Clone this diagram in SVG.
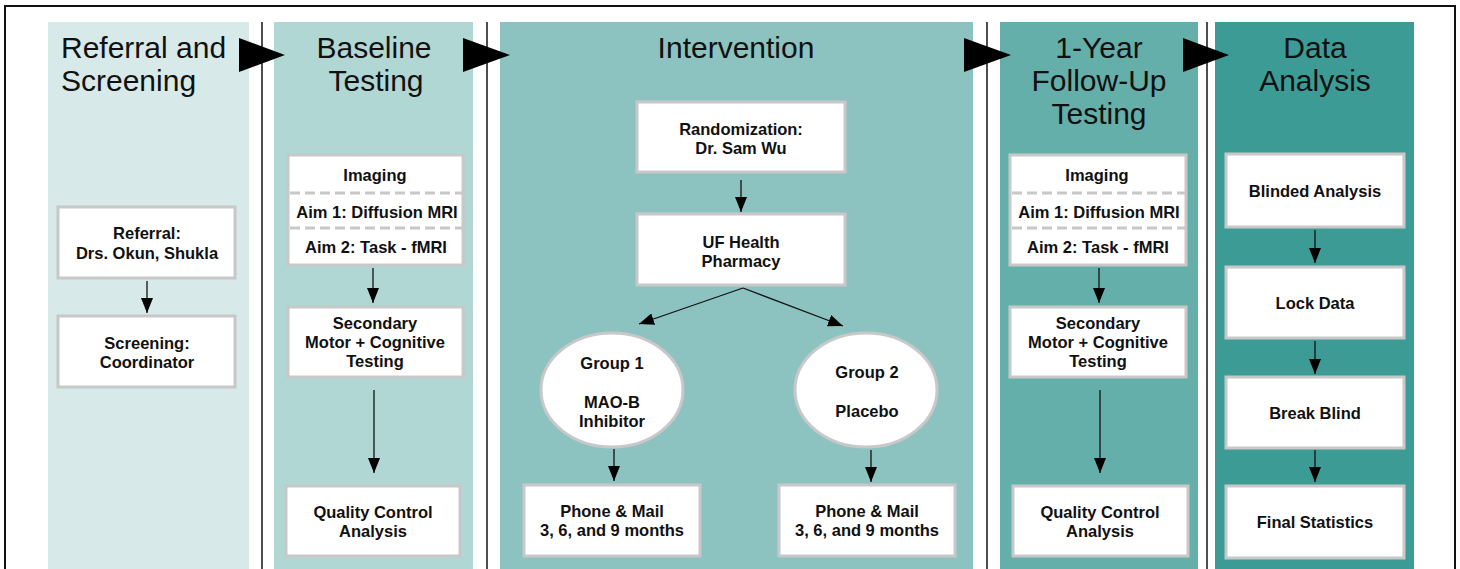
<svg xmlns="http://www.w3.org/2000/svg" width="1460" height="569" viewBox="0 0 1460 569">
<style>
.bg{fill:#ffffff}
.frame{fill:none;stroke:#111;stroke-width:2}
.sep{stroke:#222;stroke-width:1.6}
.head{font-family:"Liberation Sans",Arial,sans-serif;font-size:30px;fill:#111}
.box{fill:#fff;stroke:#c8c8c8;stroke-width:3}
.dash{stroke:#c8c8c8;stroke-width:3;stroke-dasharray:10 5}
.t{font-family:"Liberation Sans",Arial,sans-serif;font-size:16.5px;font-weight:bold;fill:#111;text-anchor:middle}
.conn{stroke:#111;stroke-width:1.3;fill:none;marker-end:url(#ah)}
.big{fill:#000}
</style>
<defs>
<marker id="ah" markerUnits="userSpaceOnUse" markerWidth="16" markerHeight="12" refX="15" refY="6" orient="auto">
<path d="M0,0 L15,6 L0,12 Z" fill="#000"/>
</marker>
</defs>
<rect class="bg" x="0" y="0" width="1460" height="569"/>
<rect class="frame" x="5" y="6" width="1450" height="580"/>

<g id="columns">
<rect x="48" y="22" width="201" height="560" fill="#d7e9e9"/>
<rect x="274" y="22" width="199" height="560" fill="#b1d7d4"/>
<rect x="500" y="22" width="473" height="560" fill="#8cc3c0"/>
<rect x="1000" y="22" width="198" height="560" fill="#64afaa"/>
<rect x="1215" y="22" width="199" height="560" fill="#3d9b96"/>
<line class="sep" x1="262" y1="22" x2="262" y2="569"/>
<line class="sep" x1="487" y1="22" x2="487" y2="569"/>
<line class="sep" x1="987" y1="22" x2="987" y2="569"/>
<line class="sep" x1="1207" y1="22" x2="1207" y2="569"/>
</g>

<g id="headings">
<text class="head" x="61" y="58">Referral and</text>
<text class="head" x="61" y="91">Screening</text>
<text class="head" x="374" y="58" text-anchor="middle">Baseline</text>
<text class="head" x="376" y="91" text-anchor="middle">Testing</text>
<text class="head" x="736" y="58" text-anchor="middle">Intervention</text>
<text class="head" x="1099" y="58" text-anchor="middle">1-Year</text>
<text class="head" x="1099" y="91" text-anchor="middle">Follow-Up</text>
<text class="head" x="1099" y="124" text-anchor="middle">Testing</text>
<text class="head" x="1315" y="58" text-anchor="middle">Data</text>
<text class="head" x="1315" y="91" text-anchor="middle">Analysis</text>
</g>

<g id="phase-arrows">
<polygon class="big" points="239,38 239,72 285,55"/>
<polygon class="big" points="463,38 463,72 510,55"/>
<polygon class="big" points="964,38 964,72 1011,55"/>
<polygon class="big" points="1183,38 1183,72 1229,55"/>
</g>

<g id="referral">
<rect class="box" x="58" y="207" width="177" height="71"/>
<text class="t" x="147" y="239">Referral:</text>
<text class="t" x="147" y="259">Drs. Okun, Shukla</text>
</g>
<g id="screening">
<rect class="box" x="58" y="316" width="177" height="71"/>
<text class="t" x="147" y="349">Screening:</text>
<text class="t" x="147" y="368">Coordinator</text>
</g>

<g id="imaging-baseline">
<rect class="box" x="288" y="155" width="175" height="110"/>
<line class="dash" x1="290" y1="193" x2="462" y2="193"/>
<line class="dash" x1="290" y1="228" x2="462" y2="228"/>
<text class="t" x="375" y="181">Imaging</text>
<text class="t" x="377" y="218">Aim 1: Diffusion MRI</text>
<text class="t" x="376" y="253">Aim 2: Task - fMRI</text>
</g>
<g id="secondary-baseline">
<rect class="box" x="288" y="307" width="175" height="70"/>
<text class="t" x="375" y="329">Secondary</text>
<text class="t" x="375" y="348">Motor + Cognitive</text>
<text class="t" x="375" y="367">Testing</text>
</g>
<g id="qc-baseline">
<rect class="box" x="286" y="486" width="174" height="70"/>
<text class="t" x="373" y="518">Quality Control</text>
<text class="t" x="373" y="537">Analysis</text>
</g>

<g id="randomization">
<rect class="box" x="637" y="102" width="208" height="70"/>
<text class="t" x="741" y="135">Randomization:</text>
<text class="t" x="741" y="154">Dr. Sam Wu</text>
</g>
<g id="pharmacy">
<rect class="box" x="637" y="214" width="208" height="71"/>
<text class="t" x="741" y="248">UF Health</text>
<text class="t" x="741" y="267">Pharmacy</text>
</g>
<g id="group1">
<ellipse cx="612" cy="390" rx="71" ry="57" fill="#fff" stroke="#c8c8c8" stroke-width="3"/>
<text class="t" x="612" y="369">Group 1</text>
<text class="t" x="612" y="408">MAO-B</text>
<text class="t" x="612" y="427">Inhibitor</text>
</g>
<g id="group2">
<ellipse cx="866" cy="390" rx="71" ry="57" fill="#fff" stroke="#c8c8c8" stroke-width="3"/>
<text class="t" x="867" y="378">Group 2</text>
<text class="t" x="867" y="417">Placebo</text>
</g>
<g id="phone1">
<rect class="box" x="524" y="485" width="176" height="71"/>
<text class="t" x="612" y="517">Phone &amp; Mail</text>
<text class="t" x="612" y="536">3, 6, and 9 months</text>
</g>
<g id="phone2">
<rect class="box" x="779" y="485" width="176" height="71"/>
<text class="t" x="867" y="517">Phone &amp; Mail</text>
<text class="t" x="867" y="536">3, 6, and 9 months</text>
</g>

<g id="imaging-followup">
<rect class="box" x="1010" y="155" width="176" height="110"/>
<line class="dash" x1="1012" y1="193" x2="1185" y2="193"/>
<line class="dash" x1="1012" y1="228" x2="1185" y2="228"/>
<text class="t" x="1097" y="181">Imaging</text>
<text class="t" x="1099" y="218">Aim 1: Diffusion MRI</text>
<text class="t" x="1098" y="253">Aim 2: Task - fMRI</text>
</g>
<g id="secondary-followup">
<rect class="box" x="1010" y="307" width="176" height="70"/>
<text class="t" x="1098" y="329">Secondary</text>
<text class="t" x="1098" y="348">Motor + Cognitive</text>
<text class="t" x="1098" y="367">Testing</text>
</g>
<g id="qc-followup">
<rect class="box" x="1013" y="486" width="175" height="70"/>
<text class="t" x="1100" y="518">Quality Control</text>
<text class="t" x="1100" y="537">Analysis</text>
</g>

<g id="blinded">
<rect class="box" x="1226" y="154" width="178" height="73"/>
<text class="t" x="1315" y="197">Blinded Analysis</text>
</g>
<g id="lock">
<rect class="box" x="1226" y="267" width="178" height="71"/>
<text class="t" x="1315" y="309">Lock Data</text>
</g>
<g id="break">
<rect class="box" x="1226" y="377" width="178" height="71"/>
<text class="t" x="1315" y="419">Break Blind</text>
</g>
<g id="final">
<rect class="box" x="1226" y="486" width="178" height="72"/>
<text class="t" x="1315" y="528">Final Statistics</text>
</g>

<g id="connectors">
<line class="conn" x1="147" y1="281" x2="147" y2="313"/>
<line class="conn" x1="373" y1="268" x2="373" y2="303"/>
<line class="conn" x1="374" y1="390" x2="374" y2="473"/>
<line class="conn" x1="741" y1="180" x2="741" y2="212"/>
<line class="conn" x1="743" y1="288" x2="639" y2="324"/>
<line class="conn" x1="743" y1="288" x2="843" y2="326"/>
<line class="conn" x1="614" y1="449" x2="614" y2="481"/>
<line class="conn" x1="871" y1="450" x2="871" y2="482"/>
<line class="conn" x1="1099" y1="268" x2="1099" y2="303"/>
<line class="conn" x1="1100" y1="390" x2="1100" y2="473"/>
<line class="conn" x1="1315" y1="230" x2="1315" y2="263"/>
<line class="conn" x1="1315" y1="341" x2="1315" y2="374"/>
<line class="conn" x1="1315" y1="450" x2="1315" y2="482"/>
</g>
</svg>
